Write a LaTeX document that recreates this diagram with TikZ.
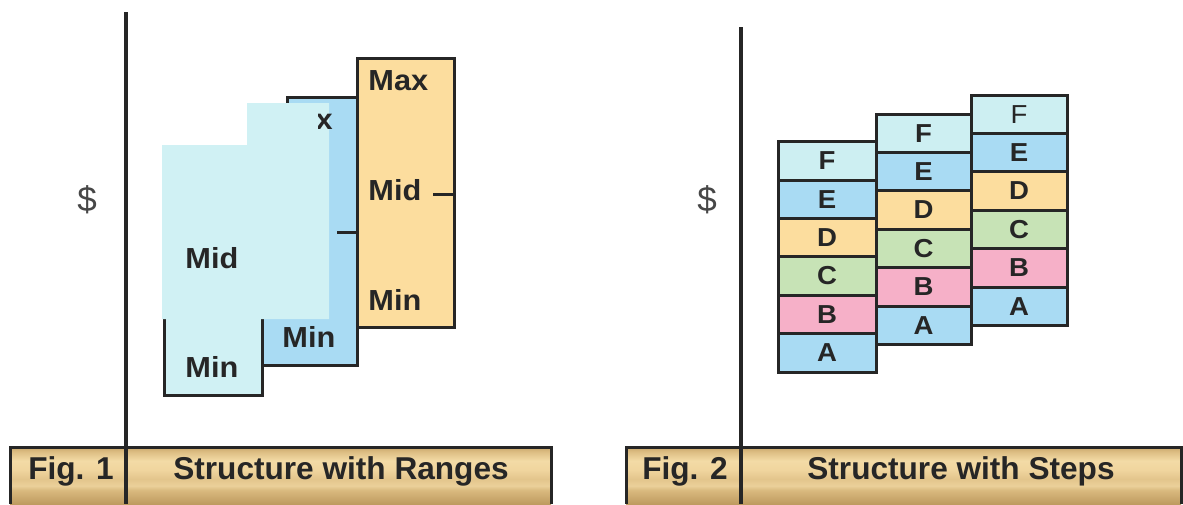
\documentclass[tikz,border=0pt]{standalone}
\usepackage{fontspec}
\setmainfont{Liberation Sans}

\definecolor{ink}{HTML}{262626}
\definecolor{orangefill}{HTML}{FCDD9E}
\definecolor{bluefill}{HTML}{A9DBF3}
\definecolor{cyanfill}{HTML}{D0F1F4}
\definecolor{lightfill}{HTML}{CDEFF2}
\definecolor{greenfill}{HTML}{C7E3B6}
\definecolor{pinkfill}{HTML}{F6B0C8}
\definecolor{barA}{HTML}{C9A66C}
\definecolor{barB}{HTML}{DCBD82}
\definecolor{barC}{HTML}{F3DBA6}
\definecolor{barD}{HTML}{F0D59E}
\definecolor{barE}{HTML}{E3C58C}
\definecolor{barF}{HTML}{EBD09A}
\definecolor{barG}{HTML}{D9B97E}
\definecolor{barH}{HTML}{BE9B60}

% gold band used behind the figure captions
\pgfdeclareverticalshading{goldbar}{100bp}{color(0bp)=(barH); color(25bp)=(barH);
  color(37bp)=(barG); color(41bp)=(barF); color(47bp)=(barE); color(55bp)=(barD);
  color(63bp)=(barC); color(71bp)=(barB); color(75bp)=(barA); color(100bp)=(barA)}

\newcommand{\hstretch}[1]{\scalebox{1.06}[1]{#1}}

\tikzset{
  boxline/.style={draw=ink, line width=1.5pt},
  axisline/.style={draw=ink, line width=1.6pt},
  rangelabel/.style={text=ink, inner sep=0pt, anchor=base west,
    font=\fontsize{14.5pt}{16pt}\selectfont\bfseries},
  letter/.style={text=ink, inner sep=0pt, font=\fontsize{13pt}{15pt}\selectfont},
  dollar/.style={text=ink!85, inner sep=0pt, font=\fontsize{17.5pt}{19pt}\selectfont},
  captext/.style={text=ink, inner sep=0pt, anchor=base,
    font=\fontsize{15.8pt}{17pt}\selectfont\bfseries},
  capbar/.style={shading=goldbar},
}

\begin{document}
\begin{tikzpicture}[x=0.5pt,y=-0.5pt]
\useasboundingbox (0,0) rectangle (1183,504);
\fill[white] (0,0) rectangle (1183,504);

% ---------------- Fig. 1: structure with ranges ----------------
% caption band
\path[capbar] (10,447) rectangle (551,504);
\draw[boxline] (10,504) -- (10,447) -- (551,447) -- (551,504);
\node[captext] (f1) at (71,479) {Fig. 1};
\node[captext] (t1) at (341,479) {Structure with Ranges};

% vertical axis, running down through the caption band
\coordinate (ax1top) at (126,12);
\coordinate (ax1bot) at (126,504);
\draw[axisline] (ax1top) -- (ax1bot);
\node[dollar] (d1) at (87,200) {\$};

% the three overlapping ranges
\draw[boxline, fill=cyanfill] (164,150) rectangle (262,395);
\draw[boxline, fill=bluefill] (287,97) -- (357,97) -- (357,365) -- (262,365)
  -- (262,112) -- (287,112) -- cycle;
\draw[boxline, fill=orangefill] (357,58) rectangle (454,327);

% midpoint ticks
\coordinate (tk1a) at (433,194);
\coordinate (tk1b) at (454,194);
\draw[boxline] (tk1a) -- (tk1b);
\coordinate (tk2a) at (337,232);
\coordinate (tk2b) at (357,232);
\draw[boxline] (tk2a) -- (tk2b);

\node[rangelabel] (omax) at (368,90) {\hstretch{Max}};
\node[rangelabel] (omid) at (368,200) {\hstretch{Mid}};
\node[rangelabel] (omin) at (368,310) {\hstretch{Min}};
\node[rangelabel] (bmin) at (282,347) {\hstretch{Min}};
\node[rangelabel] (cmin) at (185,377) {\hstretch{Min}};

% pale panel laid over the lower ranges
\fill[cyanfill] (162,145) -- (247,145) -- (247,103) -- (329,103) -- (329,319)
  -- (162,319) -- cycle;
\node[rangelabel] (pmid) at (185,268) {\hstretch{Mid}};

% the part of the blue "Max" that shows past the panel
\begin{scope}
  \clip (318,100) rectangle (356,140);
  \node[rangelabel, anchor=base east] (bmax) at (333,129) {\hstretch{Max}};
\end{scope}

% ---------------- Fig. 2: structure with steps ----------------
\path[capbar] (626,447) rectangle (1181,504);
\draw[boxline] (626,504) -- (626,447) -- (1181,447) -- (1181,504);
\node[captext] (f2) at (685,479) {Fig. 2};
\node[captext] (t2) at (961,479) {Structure with Steps};

\coordinate (ax2top) at (741,27);
\coordinate (ax2bot) at (741,504);
\draw[axisline] (ax2top) -- (ax2bot);
\node[dollar] (d2) at (707,200) {\$};

% three columns of six steps each, F at the top down to A
\foreach \c/\xa/\xb/\yt/\topwt in {1/778/876/141.6/\bfseries, 2/876/971/114/\bfseries,
                                   3/971/1067/95/\mdseries}{
  \foreach \l/\fc/\wt [count=\i from 0] in {F/lightfill/\topwt, E/bluefill/\bfseries,
      D/orangefill/\bfseries, C/greenfill/\bfseries, B/pinkfill/\bfseries,
      A/bluefill/\bfseries}{
    \draw[boxline, fill=\fc] (\xa,\yt+\i*38.4) rectangle (\xb,\yt+\i*38.4+38.4);
    \node[letter] (s\c\l) at ({(\xa+\xb)/2},\yt+\i*38.4+19.2) {\wt\hstretch{\l}};
  }
}
\end{tikzpicture}
\end{document}
